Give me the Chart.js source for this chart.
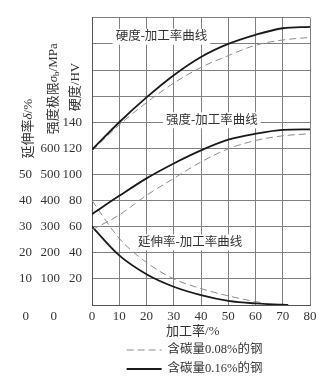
<!DOCTYPE html>
<html>
<head>
<meta charset="utf-8">
<script src="https://cdn.jsdelivr.net/npm/chart.js@4.4.0/dist/chart.umd.min.js"></script>
<style>
html, body { margin: 0; padding: 0; background: #fff; }
#wrap { width: 335px; height: 384px; }
</style>
</head>
<body>
<div id="wrap"><canvas id="chart"></canvas></div>
<script>
// 加工率 (%)
const workRate = [0, 10, 20, 30, 40, 50, 60, 70, 80];
// 硬度 HV
const hard016 = [119, 140, 159, 176, 190, 200, 207, 212, 213];
const hard008 = [118, 138, 155, 170, 182, 191, 199, 203, 205];
// 强度极限 MPa
const str016 = [348, 418, 485, 542, 592, 633, 656, 671, 673];
const str008 = [288, 345, 420, 485, 548, 598, 630, 648, 656];
// 延伸率 %
const elongRate016 = [0, 10, 20, 30, 40, 50, 60, 70, 72];
const elong016 = [30, 19, 11.8, 7, 3.8, 1.6, 0.6, 0.1, 0];
const elongRate008 = [0, 10, 20, 30, 40, 50, 60, 63];
const elong008 = [40, 25.5, 16.3, 10, 6.3, 3.5, 1.3, 0.8];

const seriesNames = ['含碳量0.08%的钢', '含碳量0.16%的钢'];
const curveNames = ['硬度-加工率曲线', '强度-加工率曲线', '延伸率-加工率曲线'];
const xTitle = '加工率/%';

const serif = "'Liberation Serif', 'Noto Sans CJK SC', serif";
const textColor = '#333';
const solidColor = '#1a1a1a';
const dashColor = '#8c8c8c';

const pts = (xs, ys) => ys.map((y, i) => ({ x: xs[i], y: y }));

function line(label, xs, ys, axis, dashed) {
    return {
        label: label,
        data: pts(xs, ys),
        yAxisID: axis,
        borderColor: dashed ? dashColor : solidColor,
        borderWidth: dashed ? 1 : 1.8,
        borderDash: dashed ? [7, 4] : [],
        pointRadius: 0,
        cubicInterpolationMode: 'monotone',
        fill: false
    };
}

function richText(ctx, parts, cx, bottom) {
    ctx.save();
    ctx.translate(cx, bottom);
    ctx.rotate(-Math.PI / 2);
    ctx.textAlign = 'left';
    ctx.textBaseline = 'middle';
    ctx.fillStyle = textColor;
    let x = 0;
    parts.forEach(p => {
        ctx.font = p.f;
        ctx.fillText(p.t, x, p.dy || 0);
        x += ctx.measureText(p.t).width;
    });
    ctx.restore();
}

const extras = {
    id: 'extras',
    beforeDatasetsDraw(chart) {
        const ctx = chart.ctx;
        const sx = chart.scales.x;
        const anchors = [
            [sx, chart.scales.yH, 25.5, 205.5, curveNames[0]],
            [sx, chart.scales.yH, 44, 141.5, curveNames[1]],
            [sx, chart.scales.yE, 36, 24, curveNames[2]]
        ];
        ctx.save();
        ctx.font = '12.5px ' + serif;
        ctx.textAlign = 'center';
        ctx.textBaseline = 'middle';
        anchors.forEach(a => {
            const px = a[0].getPixelForValue(a[2]);
            const py = a[1].getPixelForValue(a[3]);
            const w = ctx.measureText(a[4]).width;
            ctx.fillStyle = '#fff';
            ctx.fillRect(px - w / 2 - 3, py - 8, w + 6, 16);
            ctx.fillStyle = textColor;
            ctx.fillText(a[4], px, py);
        });
        ctx.restore();
    },
    afterDraw(chart) {
        const ctx = chart.ctx;
        const sx = chart.scales.x;
        const yE = chart.scales.yE, yS = chart.scales.yS, yH = chart.scales.yH;
        const f13 = '13px ' + serif;
        const it13 = 'italic 13px ' + serif;

        // zero labels of the two outer axes, on the x tick row
        ctx.save();
        ctx.font = f13;
        ctx.fillStyle = textColor;
        ctx.textAlign = 'right';
        ctx.textBaseline = 'middle';
        const zy = sx.top + sx.options.ticks.padding + 8;
        [yE, yS].forEach(s => ctx.fillText('0', s.right - s.options.ticks.padding - 3, zy));

        // x axis title
        ctx.textAlign = 'center';
        ctx.fillText(xTitle, sx.getPixelForValue(37), 332);

        // legend
        const lx = sx.getPixelForValue(12.7);
        [[dashColor, [7, 4], 1.2, 350], [solidColor, [], 1.8, 369]].forEach((s, i) => {
            ctx.strokeStyle = s[0];
            ctx.setLineDash(s[1]);
            ctx.lineWidth = s[2];
            ctx.beginPath();
            ctx.moveTo(lx, s[3]);
            ctx.lineTo(lx + 35, s[3]);
            ctx.stroke();
            ctx.setLineDash([]);
            ctx.font = '12.5px ' + serif;
            ctx.fillStyle = textColor;
            ctx.textAlign = 'left';
            ctx.fillText(seriesNames[i], lx + 41, s[3]);
        });
        ctx.restore();

        // rotated axis titles
        const mid = (s, w) => s.right - s.options.ticks.padding - w / 2 + 3;
        richText(ctx, [{ t: '延伸率', f: f13 }, { t: 'δ', f: it13 }, { t: '/%', f: f13 }],
            mid(yE, 13), yE.getPixelForValue(50) - 16);
        richText(ctx, [{ t: '强度极限', f: f13 }, { t: 'σ', f: it13 }, { t: 'b', f: '9px ' + serif, dy: 3 }, { t: '/MPa', f: f13 }],
            mid(yS, 19), yS.getPixelForValue(600) - 14);
        richText(ctx, [{ t: '硬度/HV', f: f13 }],
            mid(yH, 19), yH.getPixelForValue(140) - 11);
    }
};

const tickFont = { family: serif, size: 13 };

new Chart(document.getElementById('chart'), {
    type: 'line',
    data: {
        datasets: [
            line(seriesNames[1], workRate, hard016, 'yH', false),
            line(seriesNames[0], workRate, hard008, 'yH', true),
            line(seriesNames[1], workRate, str016, 'yS', false),
            line(seriesNames[0], workRate, str008, 'yS', true),
            line(seriesNames[1], elongRate016, elong016, 'yE', false),
            line(seriesNames[0], elongRate008, elong008, 'yE', true)
        ]
    },
    options: {
        responsive: true,
        maintainAspectRatio: false,
        animation: false,
        layout: { padding: { top: 15, right: 25, left: 0, bottom: 0 } },
        plugins: { legend: { display: false }, tooltip: { enabled: false } },
        scales: {
            x: {
                type: 'linear', min: 0, max: 80,
                ticks: { stepSize: 10, padding: 4, color: textColor, font: tickFont, maxRotation: 0 },
                grid: { color: '#808080', drawTicks: false },
                border: { color: '#555' },
                afterFit: s => { s.height = 79; }
            },
            yH: {
                position: 'left', weight: 1, min: 0, max: 220,
                ticks: { stepSize: 20, padding: 10, color: textColor, font: tickFont,
                    callback: v => (v > 0 && v <= 140) ? v : '' },
                grid: { color: '#808080', drawTicks: false },
                border: { color: '#555' },
                afterFit: s => { s.width = 30; }
            },
            yS: {
                position: 'left', weight: 2, min: 0, max: 1100,
                ticks: { stepSize: 100, padding: 2, color: textColor, font: tickFont,
                    callback: v => (v > 0 && v <= 600) ? v : '' },
                grid: { display: false, drawTicks: false },
                border: { display: false },
                afterFit: s => { s.width = 24; }
            },
            yE: {
                position: 'left', weight: 3, min: 0, max: 110,
                ticks: { stepSize: 10, padding: 6, color: textColor, font: tickFont,
                    callback: v => (v > 0 && v <= 50) ? v : '' },
                grid: { display: false, drawTicks: false },
                border: { display: false },
                afterFit: s => { s.width = 38; }
            }
        }
    },
    plugins: [extras]
});
</script>
</body>
</html>
